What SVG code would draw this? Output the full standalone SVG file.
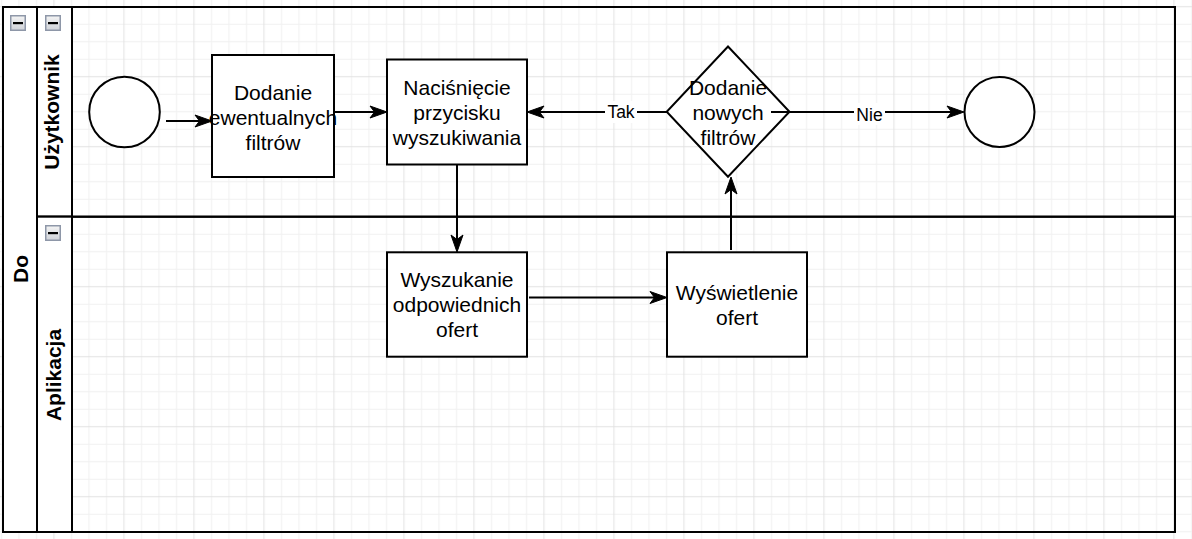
<svg xmlns="http://www.w3.org/2000/svg" xmlns:xlink="http://www.w3.org/1999/xlink" width="1192" height="539" viewBox="0 0 1192 539">
<style>
.shape{fill:#fff;stroke:#000;stroke-width:2}
.lane{fill:none;stroke:#000;stroke-width:2}
.hdr{fill:#fff;stroke:#000;stroke-width:2}
.conn{fill:none;stroke:#000;stroke-width:2}
.t{font-family:"Liberation Sans",Arial,sans-serif;font-size:21px;fill:#000;text-anchor:middle}
.hl{font-family:"Liberation Sans",Arial,sans-serif;font-size:21px;font-weight:bold;fill:#000;text-anchor:middle}
.lbl{font-family:"Liberation Sans",Arial,sans-serif;font-size:17.5px;fill:#000;text-anchor:middle}
</style>
<defs>
<pattern id="grid" width="70" height="70" patternUnits="userSpaceOnUse" x="45.25" y="-2.05">
<path d="M26.25 0V70M43.75 0V70M61.25 0V70M0 26.25H70M0 43.75H70M0 61.25H70" stroke="#f0f0f0" stroke-width="1" fill="none"/>
<path d="M8.75 0V70M0 8.75H70" stroke="#e2e2e2" stroke-width="1" fill="none"/>
</pattern>
<linearGradient id="btn" x1="0" y1="0" x2="0" y2="1">
<stop offset="0" stop-color="#f4f4f4"/>
<stop offset="1" stop-color="#cfd2d8"/>
</linearGradient>
<g id="collapse">
<rect x="0.75" y="0.75" width="14.5" height="14.5" fill="url(#btn)" stroke="#8e97a8" stroke-width="1.5"/>
<rect x="3" y="7" width="10" height="2.2" fill="#000"/>
</g>
<marker id="arr" markerUnits="userSpaceOnUse" markerWidth="20" markerHeight="14" viewBox="0 0 20 14" refX="10" refY="7" orient="auto">
<path d="M18,7 L1,1 L5.5,7 L1,13 Z" fill="#000" stroke="#000" stroke-width="1" stroke-linejoin="miter"/>
</marker>
</defs>
<rect width="1192" height="539" fill="#fff"/>
<rect width="1192" height="539" fill="url(#grid)"/>

<g id="pool">
<rect class="lane" x="3" y="7" width="1172" height="525"/>
<rect class="hdr" x="3" y="7" width="34" height="525"/>
<use xlink:href="#collapse" href="#collapse" x="10" y="15"/>
<text class="hl" transform="translate(27.5,269) rotate(-90)">Do</text>
</g>

<g id="lane-uzytkownik">
<rect class="lane" x="37" y="7" width="1138" height="209.7"/>
<rect class="hdr" x="37" y="7" width="35" height="209.7"/>
<use xlink:href="#collapse" href="#collapse" x="45" y="15"/>
<text class="hl" transform="translate(58.5,112) rotate(-90)">Użytkownik</text>
</g>

<g id="lane-aplikacja">
<rect class="lane" x="37" y="216.7" width="1138" height="315.3"/>
<rect class="hdr" x="37" y="216.7" width="35" height="315.3"/>
<use xlink:href="#collapse" href="#collapse" x="45" y="225"/>
<text class="hl" transform="translate(61,375) rotate(-90)">Aplikacja</text>
</g>

<g id="start">
<circle class="shape" cx="124.5" cy="112" r="35.3"/>
</g>

<g id="dodanie-filtrow">
<rect class="shape" x="212" y="55" width="122" height="122"/>
<text class="t" x="273" y="100">Dodanie</text>
<text class="t" x="273" y="125">ewentualnych</text>
<text class="t" x="273" y="150">filtrów</text>
</g>

<g id="nacisniecie">
<rect class="shape" x="387" y="59.5" width="140" height="105"/>
<text class="t" x="457" y="95">Naciśnięcie</text>
<text class="t" x="457" y="120">przycisku</text>
<text class="t" x="457" y="145">wyszukiwania</text>
</g>

<g id="decyzja">
<polygon class="shape" points="728,46.5 789.5,111.7 728,176.7 666.7,111.7"/>
<text class="t" x="728" y="95">Dodanie</text>
<text class="t" x="728" y="120">nowych</text>
<text class="t" x="728" y="145">filtrów</text>
</g>

<g id="end">
<circle class="shape" cx="999.5" cy="112" r="35"/>
</g>

<g id="wyszukanie">
<rect class="shape" x="387" y="252.3" width="140" height="104.4"/>
<text class="t" x="457" y="287">Wyszukanie</text>
<text class="t" x="457" y="312">odpowiednich</text>
<text class="t" x="457" y="337">ofert</text>
</g>

<g id="wyswietlenie">
<rect class="shape" x="667" y="252.3" width="140" height="104.4"/>
<text class="t" x="737" y="299.5">Wyświetlenie</text>
<text class="t" x="737" y="324.5">ofert</text>
</g>

<g id="connectors">
<path class="conn" d="M166,121 H204" marker-end="url(#arr)"/>
<path class="conn" d="M334,112 H379" marker-end="url(#arr)"/>
<path class="conn" d="M667,112 H535" marker-end="url(#arr)"/>
<path class="conn" d="M771,112 H956" marker-end="url(#arr)"/>
<path class="conn" d="M457,165 V244" marker-end="url(#arr)"/>
<path class="conn" d="M529,297.5 H659" marker-end="url(#arr)"/>
<path class="conn" d="M731,250 V185" marker-end="url(#arr)"/>
<rect x="605" y="101" width="32" height="22" fill="#fff"/>
<text class="lbl" x="621" y="118">Tak</text>
<rect x="854" y="103" width="31" height="22" fill="#fff"/>
<text class="lbl" x="869.5" y="120.5">Nie</text>
</g>
</svg>
